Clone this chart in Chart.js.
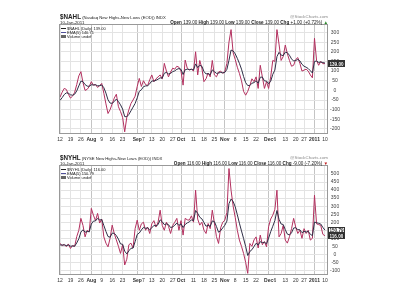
<!DOCTYPE html>
<html>
<head>
<meta charset="utf-8">
<script src="https://cdn.jsdelivr.net/npm/chart.js@4.4.1/dist/chart.umd.min.js"></script>
<style>
  body { margin: 0; width: 400px; height: 300px; overflow: hidden; background: #fff; position: relative;
         font-family: "Liberation Sans", Arial, sans-serif; color: #222; }
  .panel { position: absolute; left: 0; width: 400px; height: 148px; }
  .panel canvas { position: absolute; left: 0; top: 0; }
  .t { position: absolute; white-space: nowrap; line-height: 1; }
  .dash { display: inline-block; width: 5px; height: 1px; vertical-align: middle; margin-right: 1px; }
</style>
</head>
<body>
<div class="panel" id="p1" style="top:0"><canvas id="c1" width="400" height="148"></canvas></div>
<div class="panel" id="p2" style="top:141px"><canvas id="c2" width="400" height="148"></canvas></div>
<script>
// trading days, 12 Jul 2010 .. 10 Jan 2011
const days = [
  'Jul 12','Jul 13','Jul 14','Jul 15','Jul 16','Jul 19','Jul 20','Jul 21','Jul 22','Jul 23','Jul 26','Jul 27','Jul 28','Jul 29','Jul 30',
  'Aug 2','Aug 3','Aug 4','Aug 5','Aug 6','Aug 9','Aug 10','Aug 11','Aug 12','Aug 13','Aug 16','Aug 17','Aug 18','Aug 19','Aug 20',
  'Aug 23','Aug 24','Aug 25','Aug 26','Aug 27','Aug 30','Aug 31',
  'Sep 1','Sep 2','Sep 3','Sep 7','Sep 8','Sep 9','Sep 10','Sep 13','Sep 14','Sep 15','Sep 16','Sep 17','Sep 20','Sep 21','Sep 22',
  'Sep 23','Sep 24','Sep 27','Sep 28','Sep 29','Sep 30',
  'Oct 1','Oct 4','Oct 5','Oct 6','Oct 7','Oct 8','Oct 11','Oct 12','Oct 13','Oct 14','Oct 15','Oct 18','Oct 19','Oct 20','Oct 21',
  'Oct 22','Oct 25','Oct 26','Oct 27','Oct 28','Oct 29',
  'Nov 1','Nov 2','Nov 3','Nov 4','Nov 5','Nov 8','Nov 9','Nov 10','Nov 11','Nov 12','Nov 15','Nov 16','Nov 17','Nov 18','Nov 19',
  'Nov 22','Nov 23','Nov 24','Nov 26','Nov 29','Nov 30',
  'Dec 1','Dec 2','Dec 3','Dec 6','Dec 7','Dec 8','Dec 9','Dec 10','Dec 13','Dec 14','Dec 15','Dec 16','Dec 17','Dec 20','Dec 21',
  'Dec 22','Dec 23','Dec 27','Dec 28','Dec 29','Dec 30','Dec 31',
  'Jan 3','Jan 4','Jan 5','Jan 6','Jan 7','Jan 10'
];

const xTickIdx  = [0, 5, 10, 15, 20, 25, 30, 37, 40, 44, 49, 54, 58, 64, 69, 74, 79, 84, 89, 94, 100, 103, 108, 113, 117, 122, 127];
const xTickText = ['12','19','26','Aug','9','16','23','Sep','7','13','20','27','Oct','11','18','25','Nov','8','15','22','Dec','6','13','20','27','2011','10'];
const monthIdx  = [15, 37, 58, 79, 100, 122];

// $NAHL daily
const nahl = [
  -35, -10, 10, 5, -20, -40, -30, -10, 30, 75, 97, 40, 0, 5, 20,
  45, 27, 30, 15, 25, 36, -15, -70, -120, -100, -70, -40, -20, -85, -110,
  -140, -215, -140, -100, -68, -50, -30,
  20, 62, 20, 50, 30, 25, 55, 80, 45, 60, 70, 80, 60, 140, 100, 70, 95, 115, 110, 125, 120,
  100, 27, 157, 115, 105, 110, 100, 200, 80, 155, 115, 45, 60, 90, 70, 155, 80, 70, 95, 100, 88,
  97, 140, 250, 315, 195, 160, 120, 88, 50, -5, -25, -5, 25, 60, 45, 70, 10, 130, 70, 10, 45,
  10, 70, 155, 150, 315, 240, 155, 175, 235, 190, 155, 125, 130, 160, 170, 140, 100, 105, 110, 100, 80, 65,
  270, 155, 130, 150, 138, 139
];
// $NAHL EMA(5)
const nahlEma = [
  -52, -38, -22, -13, -15, -23, -25, -20, -3, 23, 48, 45, 30, 22, 21,
  29, 28, 29, 24, 24, 28, 14, -14, -49, -66, -67, -58, -45, -58, -75,
  -97, -136, -137, -125, -106, -87, -68,
  -39, -5, 3, 19, 23, 24, 34, 49, 48, 52, 58, 65, 63, 89, 93, 85, 88, 97, 101, 109, 113,
  109, 82, 107, 110, 108, 109, 106, 137, 118, 130, 125, 98, 85, 87, 81, 106, 97, 88, 90, 93, 91,
  93, 109, 156, 209, 204, 189, 166, 140, 110, 72, 40, 25, 25, 37, 40, 50, 37, 68, 69, 49, 48,
  35, 47, 83, 105, 175, 197, 183, 180, 198, 195, 182, 163, 152, 155, 160, 153, 135, 125, 120, 113, 102, 90,
  150, 152, 145, 147, 144, 142
];

// $NYHL daily
const nyhl = [
  68, 55, 62, 48, 65, 37, 55, 50, 110, 150, 224, 180, 109, 150, 140,
  286, 244, 210, 255, 195, 220, 109, 70, 47, 100, 182, 130, 90, 50, 6,
  60, -66, -30, 60, 70, 40, 160,
  213, 150, 190, 200, 150, 170, 130, 190, 210, 170, 200, 275, 180, 150, 200, 175, 130, 180, 200, 224, 150,
  210, 120, 224, 215, 213, 240, 200, 399, 220, 182, 200, 151, 130, 192, 160, 275, 195, 110, 68, 165, 200,
  213, 260, 534, 399, 300, 230, 150, 89, 50, 6, -50, -118, 68, 50, 90, 109, 40, 120, 60, 80, 47,
  172, 220, 244, 280, 399, 109, 130, 180, 89, 70, 110, 160, 224, 170, 130, 150, 100, 160, 130, 150, 89, 100,
  368, 190, 185, 180, 125, 116
];
// $NYHL EMA(5)
const nyhlEma = [
  59, 58, 59, 55, 58, 51, 52, 51, 71, 97, 139, 153, 138, 142, 141,
  189, 207, 208, 224, 214, 216, 180, 143, 111, 107, 132, 131, 117, 95, 65,
  63, 20, 3, 22, 38, 39, 79,
  124, 133, 152, 168, 162, 165, 153, 165, 180, 177, 185, 215, 203, 185, 190, 185, 167, 171, 181, 195, 180,
  190, 167, 186, 196, 202, 215, 210, 273, 255, 231, 221, 198, 175, 181, 174, 208, 204, 173, 138, 147, 165,
  181, 207, 316, 344, 329, 296, 247, 194, 146, 99, 49, -7, 18, 29, 49, 69, 59, 79, 73, 75, 66,
  101, 141, 175, 210, 273, 218, 189, 186, 154, 126, 121, 134, 164, 166, 154, 153, 135, 143, 139, 143, 125, 117,
  201, 197, 193, 189, 168, 151
];

const nahlTicks = [-200, -150, -100, -50, 0, 50, 100, 150, 200, 250, 300];
const nyhlTicks = [-100, -50, 0, 50, 100, 150, 200, 250, 300, 350, 400, 450, 500];

const RED = '#b3305f';
const NAVY = '#2e2e46';

function header(panel, o) {
  const add = (html, css) => {
    const d = document.createElement('div');
    d.className = 't';
    d.style.cssText = css;
    d.innerHTML = html;
    panel.appendChild(d);
  };
  add(`<b style="font-size:6.3px">${o.sym}</b> (${o.desc}) INDX`, 'left:60px;top:14.3px;font-size:4.2px;');
  add('@StockCharts.com', 'right:72px;top:14.8px;font-size:4.4px;color:#888;');
  add('10-Jan-2011', 'left:60px;top:20.8px;font-size:4.4px;');
  add(o.stats, 'right:72px;top:20.5px;font-size:4.6px;');
  add(`<span class="dash" style="background:#222"></span>${o.sym} (Daily) ${o.last}`, 'left:61px;top:26.5px;font-size:4px;');
  add(`<span class="dash" style="background:#50509a"></span>EMA(5) ${o.emaLast}`, 'left:61px;top:30.7px;font-size:4px;');
  add(`<span class="dash" style="background:#666;height:3px"></span>Volume undef`, 'left:61px;top:34.7px;font-size:4px;');
}

const framePlugin = {
  id: 'frame',
  afterDraw(chart) {
    const { ctx, chartArea: a } = chart;
    ctx.save();
    ctx.strokeStyle = '#999';
    ctx.lineWidth = 1;
    ctx.strokeRect(Math.round(a.left) + 0.5, Math.round(a.top) + 0.5, Math.round(a.width), Math.round(a.height));
    ctx.restore();
  }
};

// boxes with the last values on the right axis
function lastBoxes(items) {
  return {
    id: 'lastBoxes',
    afterDraw(chart) {
      const { ctx, chartArea: a } = chart;
      const y = chart.scales.y;
      ctx.save();
      ctx.font = 'bold 4.6px "Liberation Sans", Arial';
      ctx.textBaseline = 'middle';
      ctx.lineWidth = 1;
      items.forEach(it => {
        const py = Math.round(y.getPixelForValue(it.value) + (it.shift || 0));
        ctx.fillStyle = it.filled ? '#1e1e1e' : '#fff';
        ctx.fillRect(a.right + 1, py - 3, 17, 6);
        ctx.strokeStyle = '#333';
        ctx.strokeRect(a.right + 1.5, py - 2.5, 16, 5);
        ctx.fillStyle = it.filled ? '#fff' : '#222';
        ctx.fillText(it.text, a.right + 2.5, py + 0.3);
      });
      ctx.restore();
    }
  };
}

function makeChart(id, daily, ema, yTicks, yMin, yMax, boxes) {
  const pts = arr => arr.map((v, i) => ({ x: i, y: v }));
  return new Chart(document.getElementById(id), {
    type: 'line',
    data: {
      labels: days,
      datasets: [
        { label: 'EMA(5)', data: pts(ema), borderColor: NAVY, borderWidth: 1, pointRadius: 0, tension: 0 },
        { label: 'Daily', data: pts(daily), borderColor: RED, borderWidth: 1, pointRadius: 0, tension: 0 }
      ]
    },
    options: {
      responsive: false,
      animation: false,
      events: [],
      layout: { padding: { left: 59, top: 24, right: 0, bottom: 0 } },
      plugins: { legend: { display: false }, tooltip: { enabled: false } },
      scales: {
        x: {
          type: 'linear', min: -0.5, max: 128,
          afterBuildTicks: s => { s.ticks = xTickIdx.map(v => ({ value: v })); },
          afterFit: s => { s.height = 15; },
          border: { display: false },
          grid: {
            drawTicks: false,
            color: c => monthIdx.includes(c.tick && c.tick.value) ? '#c4c4c4' : '#e3e3e3'
          },
          ticks: {
            autoSkip: false, maxRotation: 0, minRotation: 0, padding: 4, color: '#333',
            callback: v => xTickText[xTickIdx.indexOf(v)],
            font: c => ({ size: 5, family: '"Liberation Sans", Arial',
                          weight: monthIdx.includes(c.tick && c.tick.value) ? 'bold' : 'normal' })
          }
        },
        y: {
          position: 'right', min: yMin, max: yMax,
          afterBuildTicks: s => { s.ticks = yTicks.map(v => ({ value: v })); },
          afterFit: s => { s.width = 73; },
          border: { display: false },
          grid: { drawTicks: false, color: '#e3e3e3' },
          ticks: { padding: 3, crossAlign: 'center', color: '#444',
                   font: { size: 5, family: '"Liberation Sans", Arial' } }
        }
      }
    },
    plugins: [framePlugin, lastBoxes(boxes)]
  });
}

header(document.getElementById('p1'), {
  sym: '$NAHL', desc: 'Nasdaq New Highs-New Lows (EOD)', last: '139.00', emaLast: '140.71',
  stats: '<b>Open</b> 139.00 <b>High</b> 139.00 <b>Low</b> 139.00 <b>Close</b> 139.00 <b>Chg</b> +1.00 (+0.72%) <span style="color:#2a8a2a">&#9650;</span>'
});
header(document.getElementById('p2'), {
  sym: '$NYHL', desc: 'NYSE New Highs-New Lows (EOD)', last: '116.00', emaLast: '150.79',
  stats: '<b>Open</b> 116.00 <b>High</b> 116.00 <b>Low</b> 116.00 <b>Close</b> 116.00 <b>Chg</b> -9.00 (-7.20%) <span style="color:#c02020">&#9660;</span>'
});

makeChart('c1', nahl, nahlEma, nahlTicks, -221, 344, [
  { value: 140.71, text: '140.71', filled: false },
  { value: 139, text: '139.00', filled: true }
]);
makeChart('c2', nyhl, nyhlEma, nyhlTicks, -122, 556, [
  { value: 150.79, text: '150.79', filled: false, shift: -0.5 },
  { value: 116, text: '116.00', filled: true }
]);
</script>
</body>
</html>
